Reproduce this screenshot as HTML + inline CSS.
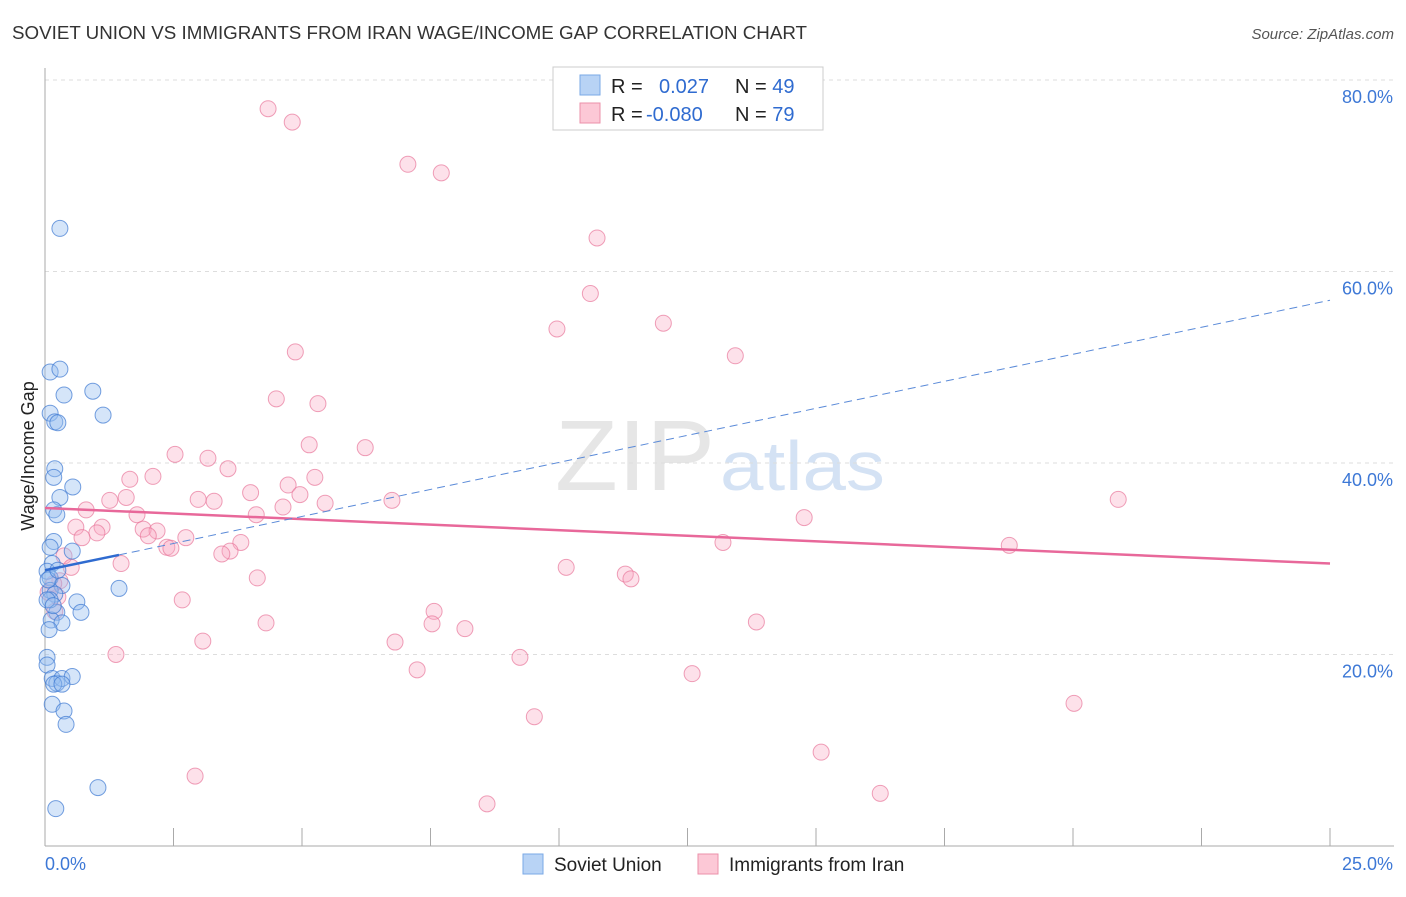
<!DOCTYPE html>
<html><head><meta charset="utf-8"><style>
body{margin:0;background:#fff;font-family:"Liberation Sans",sans-serif}
svg text{font-family:"Liberation Sans",sans-serif}
</style></head><body>
<svg id="c" width="1406" height="892">
<text x="12" y="39" font-size="18" fill="#333" textLength="795" lengthAdjust="spacingAndGlyphs">SOVIET UNION VS IMMIGRANTS FROM IRAN WAGE/INCOME GAP CORRELATION CHART</text>
<text x="1394" y="39" font-size="15" fill="#555" text-anchor="end" font-style="italic">Source: ZipAtlas.com</text>
<text x="555" y="490" font-size="100" fill="#e6e6e6" font-family="Liberation Serif" textLength="160" lengthAdjust="spacingAndGlyphs">ZIP</text>
<text x="720" y="490" font-size="70" fill="#d4e2f4" textLength="165" lengthAdjust="spacingAndGlyphs">atlas</text>
<g id="grid"></g><g id="axes"></g><g id="pts"></g><g id="lines"></g>
<text transform="translate(34,456) rotate(-90)" font-size="18" fill="#222" text-anchor="middle">Wage/Income Gap</text>
<g>
<rect x="553" y="67" width="270" height="63" fill="#fff" stroke="#ccc"/>
<rect x="580" y="75" width="20" height="20" fill="#b8d3f5" stroke="#7aa8e6"/>
<rect x="580" y="103" width="20" height="20" fill="#fcc8d6" stroke="#eb90aa"/>
<text x="611" y="93" font-size="20" fill="#222">R = <tspan x="659" fill="#2f6bd0">0.027</tspan><tspan x="735" fill="#222">N = </tspan><tspan fill="#2f6bd0">49</tspan></text>
<text x="611" y="121" font-size="20" fill="#222">R = <tspan x="646" fill="#2f6bd0">-0.080</tspan><tspan x="735" fill="#222">N = </tspan><tspan fill="#2f6bd0">79</tspan></text>
</g>
<g>
<rect x="523" y="854" width="20" height="20" fill="#b8d3f5" stroke="#7aa8e6"/>
<text x="554" y="871" font-size="19" fill="#222">Soviet Union</text>
<rect x="698" y="854" width="20" height="20" fill="#fcc8d6" stroke="#eb90aa"/>
<text x="729" y="871" font-size="19" fill="#222">Immigrants from Iran</text>
</g>
</svg>
<script>
const blueX=[0.29,0.10,0.29,0.37,0.93,1.13,0.10,0.19,0.25,0.19,0.17,0.54,0.29,0.17,0.23,0.17,0.53,0.10,0.14,0.04,0.10,0.33,1.44,0.10,0.19,0.62,0.70,0.23,0.12,0.33,0.08,0.04,0.04,0.14,0.23,0.33,0.53,0.17,0.33,0.14,0.37,0.41,1.03,0.21,0.06,0.10,0.25,0.04,0.16];
const blueY=[64.5,49.5,49.8,47.1,47.5,45.0,45.2,44.3,44.2,39.4,38.5,37.5,36.4,35.1,34.6,31.8,30.8,31.2,29.5,28.7,28.0,27.2,26.9,26.7,26.3,25.5,24.4,24.4,23.6,23.3,22.6,19.7,18.9,17.5,17.0,17.5,17.7,16.9,16.9,14.8,14.1,12.7,6.1,3.9,27.8,25.7,28.8,25.7,25.1];
const pinkX=[4.34,4.81,7.06,7.71,10.74,10.61,9.96,12.03,13.43,4.87,4.50,5.31,5.14,6.23,2.53,3.17,3.56,2.10,1.65,5.25,4.73,4.00,4.96,1.58,1.26,2.98,3.29,6.75,20.88,5.45,4.63,0.80,1.79,4.11,14.77,0.60,1.11,1.91,2.18,1.01,2.01,2.74,0.72,3.81,13.19,18.76,2.37,2.45,3.60,3.44,0.37,1.48,0.51,10.14,11.29,11.40,4.13,0.29,0.17,0.25,0.06,2.67,0.19,7.57,7.53,8.17,4.30,13.84,6.81,3.07,1.38,9.24,7.24,12.59,20.02,9.52,15.10,2.92,8.60,16.25];
const pinkY=[77.0,75.6,71.2,70.3,63.5,57.7,54.0,54.6,51.2,51.6,46.7,46.2,41.9,41.6,40.9,40.5,39.4,38.6,38.3,38.5,37.7,36.9,36.7,36.4,36.1,36.2,36.0,36.1,36.2,35.8,35.4,35.1,34.6,34.6,34.3,33.3,33.3,33.1,32.9,32.7,32.4,32.2,32.2,31.7,31.7,31.4,31.2,31.1,30.8,30.5,30.3,29.5,29.1,29.1,28.4,27.9,28.0,27.7,27.4,26.0,26.5,25.7,24.5,24.5,23.2,22.7,23.3,23.4,21.3,21.4,20.0,19.7,18.4,18.0,14.9,13.5,9.8,7.3,4.4,5.5];
const yTicks=[20,40,60,80];
const yTickLabels=["20.0%","40.0%","60.0%","80.0%"];
const xTicks=[0,2.5,5,7.5,10,12.5,15,17.5,20,22.5,25];
const blueTrend=[[0,28.8],[1.44,30.4],[25,57.0]];
const pinkTrend=[[0,35.3],[25,29.5]];
const X=v=>45+v/25*1285, Y=v=>846-v/20*191.5;
const NS="http://www.w3.org/2000/svg";
function mk(p,t,a){const e=document.createElementNS(NS,t);for(const k in a)e.setAttribute(k,a[k]);p.appendChild(e);return e;}
const grid=document.getElementById('grid'),axes=document.getElementById('axes'),pts=document.getElementById('pts'),lines=document.getElementById('lines');
yTicks.forEach((t,i)=>{const l=mk(grid,'line',{x1:45,x2:1394,y1:Y(t),y2:Y(t),stroke:'#ddd','stroke-dasharray':'4,4'});

const tx=mk(grid,'text',{x:1393,y:Y(t)+23,'font-size':18,fill:'#3d78d6','text-anchor':'end'});tx.textContent=yTickLabels[i];
});
const ax=mk(axes,'line',{x1:45,x2:45,y1:68,y2:846,stroke:'#aaa'});
const bx=mk(axes,'line',{x1:45,x2:1394,y1:846,y2:846,stroke:'#aaa'});
xTicks.forEach(t=>{const l=mk(axes,'line',{x1:X(t),x2:X(t),y1:828,y2:846,stroke:'#aaa'});});
const x0=mk(axes,'text',{x:45,y:870,'font-size':18,fill:'#3d78d6'});x0.textContent='0.0%';
const x1=mk(axes,'text',{x:1393,y:870,'font-size':18,fill:'#3d78d6','text-anchor':'end'});x1.textContent='25.0%';
pinkX.forEach((v,i)=>{const c=mk(pts,'circle',{cx:X(v),cy:Y(pinkY[i]),r:8,fill:'rgba(248,170,195,0.35)',stroke:'rgba(232,120,155,0.7)','stroke-width':1});
});
blueX.forEach((v,i)=>{const c=mk(pts,'circle',{cx:X(v),cy:Y(blueY[i]),r:8,fill:'rgba(150,190,240,0.4)',stroke:'rgba(60,120,210,0.7)','stroke-width':1});
});
const pl=mk(lines,'line',{x1:X(pinkTrend[0][0]),y1:Y(pinkTrend[0][1]),x2:X(pinkTrend[1][0]),y2:Y(pinkTrend[1][1]),stroke:'#e8689a','stroke-width':2.5});

const bl=mk(lines,'line',{x1:X(blueTrend[0][0]),y1:Y(blueTrend[0][1]),x2:X(blueTrend[1][0]),y2:Y(blueTrend[1][1]),stroke:'#2f6bd0','stroke-width':2.5});

const bd=mk(lines,'line',{x1:X(blueTrend[1][0]),y1:Y(blueTrend[1][1]),x2:X(blueTrend[2][0]),y2:Y(blueTrend[2][1]),stroke:'#5a8ad8','stroke-width':1,'stroke-dasharray':'8,5'});

</script>
</body></html>
